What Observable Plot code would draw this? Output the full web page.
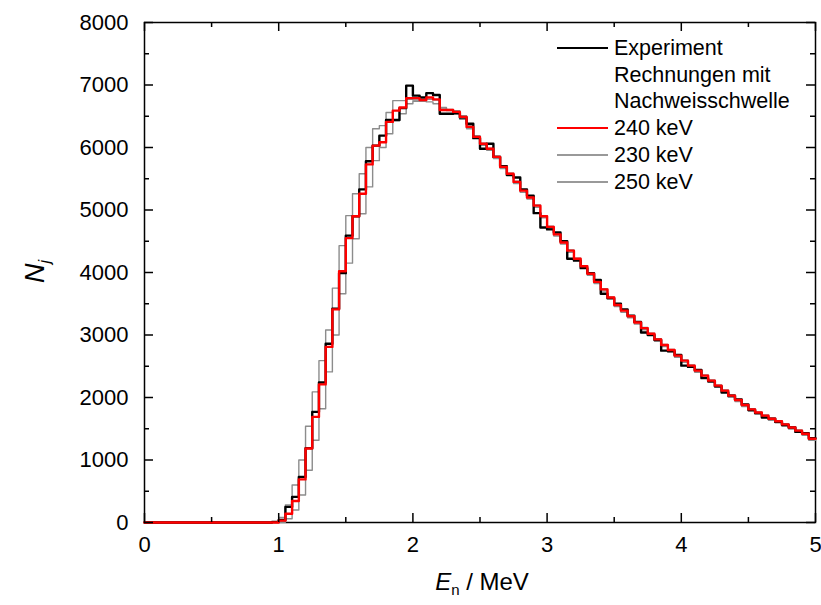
<!DOCTYPE html>
<html>
<head>
<meta charset="utf-8">
<script src="https://cdn.jsdelivr.net/npm/d3@7"></script>
<script src="https://cdn.jsdelivr.net/npm/@observablehq/plot@0.6"></script>
<style>
  body { margin: 0; background: #fff; }
  #wrap { position: relative; width: 821px; height: 605px; font-family: "Liberation Sans", Arial, sans-serif; color: #000; }
  #wrap svg { position: absolute; left: 0; top: 0; }
  .lg-row { position: absolute; height: 24px; line-height: 24px; font-size: 21.5px; white-space: nowrap; }
  .lg-line { position: absolute; }
  .title { position: absolute; font-size: 24px; white-space: nowrap; }
</style>
</head>
<body>
<div id="wrap"></div>
<script>
// ---- data (bin width 0.05 MeV, 100 bins from 0 to 5 MeV) ----
const binWidth = 0.05;

const experiment = [
  0,0,0,0,0,0,0,0,0,0, 0,0,0,0,0,0,0,0,0,10,
  40,250,410,730,1190,1770,2240,2860,3420,3990,
  4590,4900,5330,5780,6030,6190,6440,6440,6630,6990,
  6830,6800,6870,6840,6540,6540,6550,6480,6380,6150,
  5980,6060,5850,5700,5560,5520,5330,5230,4950,4720,
  4690,4640,4500,4220,4190,4070,3990,3880,3660,3590,
  3500,3410,3310,3210,3040,3000,2920,2750,2740,2680,
  2510,2490,2440,2310,2260,2180,2080,2030,1970,1890,
  1800,1750,1680,1660,1610,1560,1520,1450,1430,1350
];

const calc240 = [
  0,0,0,0,0,0,0,0,0,0, 0,0,0,0,0,0,0,0,0,0,
  30,140,345,690,1185,1690,2210,2810,3410,4020,
  4550,4900,5260,5730,6030,6085,6410,6590,6640,6790,
  6790,6760,6800,6770,6600,6600,6570,6490,6330,6170,
  6060,5980,5850,5690,5580,5450,5310,5200,5070,4900,
  4730,4610,4480,4350,4220,4100,3980,3850,3730,3600,
  3480,3390,3300,3200,3110,3020,2930,2840,2760,2670,
  2590,2510,2430,2350,2270,2190,2110,2030,1960,1880,
  1810,1760,1710,1660,1620,1570,1520,1470,1420,1340
];

const calc230 = [
  0,0,0,0,0,0,0,0,0,0, 0,0,0,0,0,0,0,0,0,5,
  80,280,600,1000,1540,2090,2590,3080,3750,4430,
  4910,5260,5580,6000,6300,6350,6560,6750,6750,6770,
  6760,6740,6730,6700,6630,6590,6530,6450,6300,6150,
  6035,5955,5825,5665,5555,5425,5285,5175,5045,4875,
  4705,4585,4455,4325,4195,4075,3955,3825,3705,3575,
  3455,3365,3275,3175,3085,2995,2905,2815,2735,2645,
  2565,2485,2405,2325,2245,2165,2085,2005,1935,1855,
  1785,1735,1685,1635,1595,1545,1495,1445,1395,1315
];

const calc250 = [
  0,0,0,0,0,0,0,0,0,0, 0,0,0,0,0,0,0,0,0,0,
  5,60,200,440,835,1315,1820,2410,3000,3660,
  4150,4540,4940,5370,5790,6000,6220,6430,6540,6700,
  6740,6760,6770,6760,6640,6610,6590,6510,6350,6190,
  6070,5990,5860,5700,5590,5460,5320,5210,5080,4910,
  4740,4620,4490,4360,4230,4110,3990,3860,3740,3610,
  3490,3400,3310,3210,3120,3030,2940,2850,2770,2680,
  2600,2520,2440,2360,2280,2200,2120,2040,1970,1890,
  1820,1770,1720,1670,1630,1580,1530,1480,1430,1350
];

const xTicks = [0, 1, 2, 3, 4, 5];
const xMinorTicks = [0.5, 1.5, 2.5, 3.5, 4.5];
const yTicks = [0, 1000, 2000, 3000, 4000, 5000, 6000, 7000, 8000];
const yMinorTicks = [500, 1500, 2500, 3500, 4500, 5500, 6500, 7500];

const legendItems = [
  {label: "Experiment", color: "#000000", width: 2.4},
  {label: "Rechnungen mit", color: null, width: 0},
  {label: "Nachweisschwelle", color: null, width: 0},
  {label: "240 keV", color: "#ff0000", width: 2.4},
  {label: "230 keV", color: "#999999", width: 1.6},
  {label: "250 keV", color: "#999999", width: 1.6}
];

// ---- step table built from the arrays ----
function steps(values) {
  const pts = values.map((v, i) => ({x: i * binWidth, y: v}));
  pts.push({x: values.length * binWidth, y: values[values.length - 1]});
  return pts;
}

const W = 821, H = 605, mL = 144, mR = 6, mT = 22, mB = 83;
const iW = W - mL - mR, iH = H - mT - mB;
const major = 9, minor = 5;
const font = '"Liberation Sans", Arial, sans-serif';

const chart = Plot.plot({
  width: W, height: H,
  marginLeft: mL, marginRight: mR, marginTop: mT, marginBottom: mB,
  style: {fontFamily: font, fontSize: "22px", background: "transparent", color: "#000", overflow: "visible"},
  x: {domain: [0, 5]},
  y: {domain: [0, 8000]},
  marks: [
    Plot.frame({stroke: "#000", strokeWidth: 1.5}),
    Plot.line(steps(calc230), {x: "x", y: "y", curve: "step-after", stroke: "#8c8c8c", strokeWidth: 1.4}),
    Plot.line(steps(calc250), {x: "x", y: "y", curve: "step-after", stroke: "#8c8c8c", strokeWidth: 1.4}),
    Plot.line(steps(experiment), {x: "x", y: "y", curve: "step-after", stroke: "#000", strokeWidth: 2.4}),
    Plot.line(steps(calc240), {x: "x", y: "y", curve: "step-after", stroke: "#ff0000", strokeWidth: 2.4}),
    // inward ticks, bottom/top
    Plot.tickX(xTicks, {x: d => d, insetTop: iH - major, stroke: "#000", strokeWidth: 1.5}),
    Plot.tickX(xTicks, {x: d => d, insetBottom: iH - major, stroke: "#000", strokeWidth: 1.5}),
    Plot.tickX(xMinorTicks, {x: d => d, insetTop: iH - minor, stroke: "#000", strokeWidth: 1.5}),
    Plot.tickX(xMinorTicks, {x: d => d, insetBottom: iH - minor, stroke: "#000", strokeWidth: 1.5}),
    // inward ticks, left/right
    Plot.tickY(yTicks, {y: d => d, insetRight: iW - major, stroke: "#000", strokeWidth: 1.5}),
    Plot.tickY(yTicks, {y: d => d, insetLeft: iW - major, stroke: "#000", strokeWidth: 1.5}),
    Plot.tickY(yMinorTicks, {y: d => d, insetRight: iW - minor, stroke: "#000", strokeWidth: 1.5}),
    Plot.tickY(yMinorTicks, {y: d => d, insetLeft: iW - minor, stroke: "#000", strokeWidth: 1.5}),
    Plot.axisX({ticks: xTicks, tickSize: 0, tickPadding: 14, tickFormat: d => String(d), label: null, fontSize: 22}),
    Plot.axisY({ticks: yTicks, tickSize: 0, tickPadding: 16, tickFormat: d => String(d), label: null, fontSize: 22})
  ]
});

const wrap = document.getElementById("wrap");
wrap.appendChild(chart);

// ---- legend (inside the frame, top right) ----
const rowY = [48, 75, 101, 128, 155, 182];
legendItems.forEach((item, i) => {
  const cy = rowY[i];
  if (item.color) {
    const ln = document.createElement("div");
    ln.className = "lg-line";
    ln.style.left = "557px";
    ln.style.width = "51px";
    ln.style.top = (cy - item.width / 2) + "px";
    ln.style.height = item.width + "px";
    ln.style.background = item.color;
    wrap.appendChild(ln);
  }
  const tx = document.createElement("div");
  tx.className = "lg-row";
  tx.style.left = "614px";
  tx.style.top = (cy - 12) + "px";
  tx.textContent = item.label;
  wrap.appendChild(tx);
});

// ---- axis titles ----
const xt = document.createElement("div");
xt.className = "title";
xt.style.left = "382px";
xt.style.width = "200px";
xt.style.textAlign = "center";
xt.style.top = "568px";
xt.innerHTML = '<i>E</i><span style="font-size:15px;position:relative;top:5px;">n</span> / MeV';
wrap.appendChild(xt);

const yt = document.createElement("div");
yt.className = "title";
yt.style.left = "-15px";
yt.style.width = "100px";
yt.style.textAlign = "center";
yt.style.top = "256px";
yt.style.fontSize = "27px";
yt.style.transform = "rotate(-90deg)";
yt.innerHTML = '<i>N</i><i style="font-size:16px;position:relative;top:6px;">j</i>';
wrap.appendChild(yt);
</script>
</body>
</html>
